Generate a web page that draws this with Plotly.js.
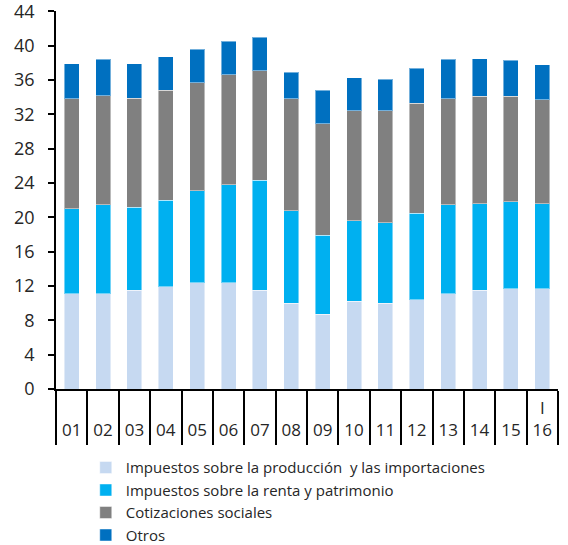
<!DOCTYPE html>
<html>
<head>
<meta charset="utf-8">
<script src="https://cdn.plot.ly/plotly-3.0.1.min.js"></script>
<style>
  html, body { margin: 0; padding: 0; background: #fff; }
  #myDiv { width: 568px; height: 545px; }
</style>
</head>
<body>
<div id="myDiv"></div>
<script>
var years = ['01', '02', '03', '04', '05', '06', '07', '08', '09', '10', '11', '12', '13', '14', '15', '16'];
var yearLabels = ['\u00a0<br>01', '\u00a0<br>02', '\u00a0<br>03', '\u00a0<br>04', '\u00a0<br>05', '\u00a0<br>06',
    '\u00a0<br>07', '\u00a0<br>08', '\u00a0<br>09', '\u00a0<br>10', '\u00a0<br>11', '\u00a0<br>12',
    '\u00a0<br>13', '\u00a0<br>14', '\u00a0<br>15', 'I<br>16'];
var yTicks = [0, 4, 8, 12, 16, 20, 24, 28, 32, 36, 40, 44];

var produccion = [11.1, 11.1, 11.5, 11.9, 12.4, 12.4, 11.5, 10.0, 8.7, 10.2, 10.0, 10.4, 11.1, 11.5, 11.7, 11.7];
var renta = [9.9, 10.4, 9.7, 10.1, 10.7, 11.4, 12.8, 10.8, 9.2, 9.4, 9.4, 10.1, 10.4, 10.1, 10.1, 9.9];
var cotizaciones = [12.8, 12.7, 12.7, 12.8, 12.6, 12.8, 12.8, 13.0, 13.0, 12.8, 13.0, 12.8, 12.3, 12.5, 12.3, 12.1];
var otros = [4.1, 4.2, 4.0, 3.9, 3.9, 3.9, 3.9, 3.1, 3.9, 3.9, 3.7, 4.1, 4.6, 4.4, 4.2, 4.1];

var edge = {color: 'rgba(255,255,255,0.45)', width: 1};

var trace1 = {
    x: years, y: produccion, type: 'bar',
    name: 'Impuestos sobre la producción  y las importaciones',
    marker: {color: '#c6d9f1', line: edge}
};
var trace2 = {
    x: years, y: renta, type: 'bar',
    name: 'Impuestos sobre la renta y patrimonio',
    marker: {color: '#00b0f0', line: edge}
};
var trace3 = {
    x: years, y: cotizaciones, type: 'bar',
    name: 'Cotizaciones sociales',
    marker: {color: '#808080', line: edge}
};
var trace4 = {
    x: years, y: otros, type: 'bar',
    name: 'Otros',
    marker: {color: '#0070c0', line: edge}
};

var data = [trace1, trace2, trace3, trace4];

var layout = {
    width: 568,
    height: 545,
    barmode: 'stack',
    bargap: 0.52,
    margin: {l: 56, r: 10, t: 11, b: 156, autoexpand: false},
    paper_bgcolor: '#fff',
    plot_bgcolor: '#fff',
    font: {family: 'Open Sans, sans-serif', size: 16, color: '#262626'},
    showlegend: true,
    legend: {
        xref: 'container', yref: 'container',
        x: 0.151, y: 0.172, xanchor: 'left', yanchor: 'top',
        orientation: 'v', traceorder: 'normal',
        font: {size: 15, color: '#262626'},
        itemwidth: 30,
        tracegroupgap: 0,
        bgcolor: 'rgba(0,0,0,0)'
    },
    xaxis: {
        type: 'category',
        tickmode: 'array',
        tickvals: years,
        ticktext: yearLabels,
        tickson: 'boundaries',
        ticks: 'outside',
        ticklen: 54,
        tickwidth: 1.5,
        tickcolor: '#000',
        showline: true,
        linecolor: '#000',
        linewidth: 1.5,
        showgrid: false,
        zeroline: false,
        tickfont: {size: 17, color: '#262626'},
        ticklabelstandoff: 3
    },
    yaxis: {
        range: [0, 44.05],
        tickmode: 'array',
        tickvals: yTicks,
        ticks: 'outside',
        ticklen: 6,
        tickwidth: 1.5,
        tickcolor: '#000',
        showline: true,
        linecolor: '#000',
        linewidth: 1.5,
        showgrid: false,
        zeroline: false,
        ticklabeloverflow: 'allow',
        ticklabelstandoff: 10,
        tickfont: {size: 18, color: '#262626'}
    }
};

Plotly.newPlot('myDiv', data, layout, {displayModeBar: false});
</script>
</body>
</html>
